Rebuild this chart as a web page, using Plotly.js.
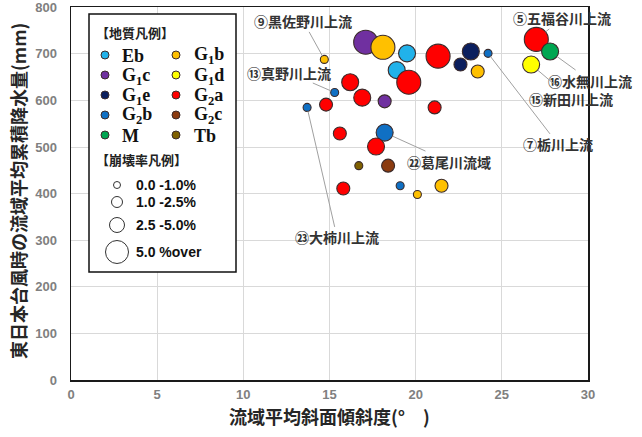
<!DOCTYPE html>
<html><head><meta charset="utf-8">
<script src="https://cdn.plot.ly/plotly-3.0.1.min.js"></script>
<style>html,body{margin:0;padding:0;background:#fff}#chart{width:642px;height:437px}</style>
</head><body><div id="chart"></div>
<script>
// ---- data ----
const slope = [14.7, 17.1, 18.1, 19.5, 21.3, 18.9, 19.6, 16.2, 15.3, 16.9, 18.2, 14.8, 13.7, 21.1, 15.6, 18.2, 17.7, 16.7, 18.4, 15.8, 19.1, 20.1, 21.5, 23.2, 24.2, 22.6, 23.6, 27.0, 27.8, 26.7];
const rain  = [688, 725, 714, 701, 695, 665, 639, 639, 617, 606, 598, 591, 585, 585, 529, 531, 501, 460, 460, 411, 417, 398, 417, 705, 701, 677, 662, 731, 705, 677];
const geology = ['G1b','G1c','G1b','Eb','G2a','Eb','G2a','G2a','G2b','G2a','G1c','G2a','G2b','G2a','G2a','G2b','G2a','Tb','G2c','G2a','G2b','G1b','G1b','G1e','G2b','G1e','G1b','G2a','M','G1d'];
const rateClass = [0,3,3,2,3,2,3,2,0,2,1,1,0,1,1,2,2,0,1,1,0,0,1,2,0,1,1,3,2,2];

const geoLeftCol  = ['Eb','G1c','G1e','G2b','M'];
const geoRightCol = ['G1b','G1d','G2a','G2c','Tb'];
const geoLabel = {Eb:'Eb', G1b:'G<sub>1</sub>b', G1c:'G<sub>1</sub>c', G1d:'G<sub>1</sub>d', G1e:'G<sub>1</sub>e',
                  G2a:'G<sub>2</sub>a', G2b:'G<sub>2</sub>b', G2c:'G<sub>2</sub>c', M:'M', Tb:'Tb'};
const rateLabels = ['0.0 -1.0%','1.0 -2.5%','2.5 -5.0%','5.0 %over'];
const siteIndex = [0, 8, 12, 15, 27, 28, 29, 24];
const siteNames = ['⑨黒佐野川上流','⑬真野川上流','㉓大柿川上流','㉒葛尾川流域','⑤五福谷川上流','⑯水無川上流','⑮新田川上流','⑦栃川上流'];
const xTitle = '流域平均斜面傾斜度(°\u3000)';
const yTitle = '東日本台風時の流域平均累積降水量(mm)';

// ---- styles ----
const geoColor = {Eb:'#21b2ea', G1b:'#ffc000', G1c:'#7030a0', G1d:'#ffff00', G1e:'#0b1f5e',
                  G2a:'#ff0000', G2b:'#1070c4', G2c:'#8b3b10', M:'#00a651', Tb:'#7f6000'};
const rateSize = [8, 13, 17, 24];
const labelOffset = [[-21,-38],[-46,-20],[30,130],[64,29],[26,-21],[40,29],[40,34],[70,91]];

const L = 71, R = 588, T = 7, B = 380;
const fx = p => (p - L) / (R - L);
const fy = p => (B - p) / (B - T);

const trace = {
  type:'scatter', mode:'markers', x: slope, y: rain, cliponaxis:false,
  marker:{ color: geology.map(g => geoColor[g]), size: rateClass.map(c => rateSize[c]),
           line:{color:'#3b2b2b', width:1.1}, opacity:1 },
  hoverinfo:'x+y', showlegend:false
};

const jpFont = 'Noto Sans CJK JP, Noto Sans, sans-serif';
const annotations = [];
const shapes = [];

siteIndex.forEach((idx, k) => {
  annotations.push({
    x: slope[idx], y: rain[idx], xref:'x', yref:'y', text: siteNames[k],
    showarrow:true, arrowhead:0, arrowwidth:1, arrowcolor:'#a0a0a0',
    ax: labelOffset[k][0], ay: labelOffset[k][1],
    standoff: rateSize[rateClass[idx]]/2, borderpad:0,
    font:{family:jpFont, size:14, color:'#333333', weight:'bold'}
  });
});

// axis titles
annotations.push({xref:'paper', yref:'paper', x:0.5, y:fy(416), xanchor:'center', yanchor:'middle',
  text:xTitle, showarrow:false, font:{family:jpFont, size:18, color:'#262626', weight:'bold'}});
annotations.push({xref:'paper', yref:'paper', x:fx(18), y:fy(191), xanchor:'center', yanchor:'middle',
  textangle:-90, text:yTitle, showarrow:false, font:{family:jpFont, size:18, color:'#262626', weight:'bold'}});

// legend box
shapes.push({type:'rect', xref:'paper', yref:'paper', x0:fx(89), x1:fx(236), y0:fy(272), y1:fy(14),
             line:{color:'#111', width:1.5}, fillcolor:'#ffffff', layer:'above'});

annotations.push({xref:'paper', yref:'paper', x:fx(94), y:fy(32), xanchor:'left', yanchor:'middle',
  text:'【地質凡例】', showarrow:false, font:{family:jpFont, size:13, color:'#222', weight:'bold'}});
const rowsY = [55, 75, 95, 115, 135];
function dot(cx, cy, r, fill, lineColor, lw) {
  shapes.push({type:'circle', xref:'paper', yref:'paper', xsizemode:'pixel', ysizemode:'pixel',
    xanchor:fx(cx), yanchor:fy(cy), x0:-r, x1:r, y0:-r, y1:r,
    fillcolor:fill, line:{color:lineColor, width:lw}, layer:'above'});
}
[[geoLeftCol,105,120],[geoRightCol,176,192]].forEach(([col, dx, tx]) => {
  col.forEach((g, i) => {
    dot(dx, rowsY[i], 4, geoColor[g], '#3b2b2b', 1);
    annotations.push({xref:'paper', yref:'paper', x:fx(tx), y:fy(rowsY[i]+1), xanchor:'left', yanchor:'middle',
      text:geoLabel[g], showarrow:false, font:{family:'Liberation Serif, serif', size:18, color:'#111', weight:'bold'}});
  });
});

annotations.push({xref:'paper', yref:'paper', x:fx(94), y:fy(159), xanchor:'left', yanchor:'middle',
  text:'【崩壊率凡例】', showarrow:false, font:{family:jpFont, size:13, color:'#222', weight:'bold'}});
const rateY = [185, 202, 225, 252];
const rateR = [3.5, 5.5, 7.5, 11.5];
rateLabels.forEach((t, i) => {
  dot(117, rateY[i], rateR[i], 'rgba(0,0,0,0)', '#333', 1);
  annotations.push({xref:'paper', yref:'paper', x:fx(134), y:fy(rateY[i]), xanchor:'left', yanchor:'middle',
    text:t, showarrow:false, font:{family:'Liberation Sans, Arial, sans-serif', size:14, color:'#111', weight:'bold'}});
});

const tickFont = {family:'Liberation Sans, Arial, sans-serif', size:13, color:'#808080', weight:'bold'};
const layout = {
  width:642, height:437, margin:{l:L, r:642-R, t:T, b:437-B},
  paper_bgcolor:'#fff', plot_bgcolor:'#fff', showlegend:false,
  xaxis:{range:[0,30], tick0:0, dtick:5, showgrid:true, gridcolor:'#d9d9d9', gridwidth:1, zeroline:false,
         showline:true, mirror:true, linecolor:'#1a1a1a', linewidth:1.5,
         ticks:'outside', ticklen:2, tickcolor:'rgba(0,0,0,0)', tickfont:tickFont, ticklabeloverflow:'allow'},
  yaxis:{range:[0,800.5], tick0:0, dtick:100, showgrid:true, gridcolor:'#d9d9d9', gridwidth:1, zeroline:false,
         showline:true, mirror:true, linecolor:'#1a1a1a', linewidth:1.5,
         ticks:'outside', ticklen:10, tickcolor:'rgba(0,0,0,0)', tickfont:tickFont, ticklabeloverflow:'allow'},
  annotations, shapes
};
Plotly.newPlot('chart', [trace], layout, {staticPlot:true, displayModeBar:false});
</script></body></html>
